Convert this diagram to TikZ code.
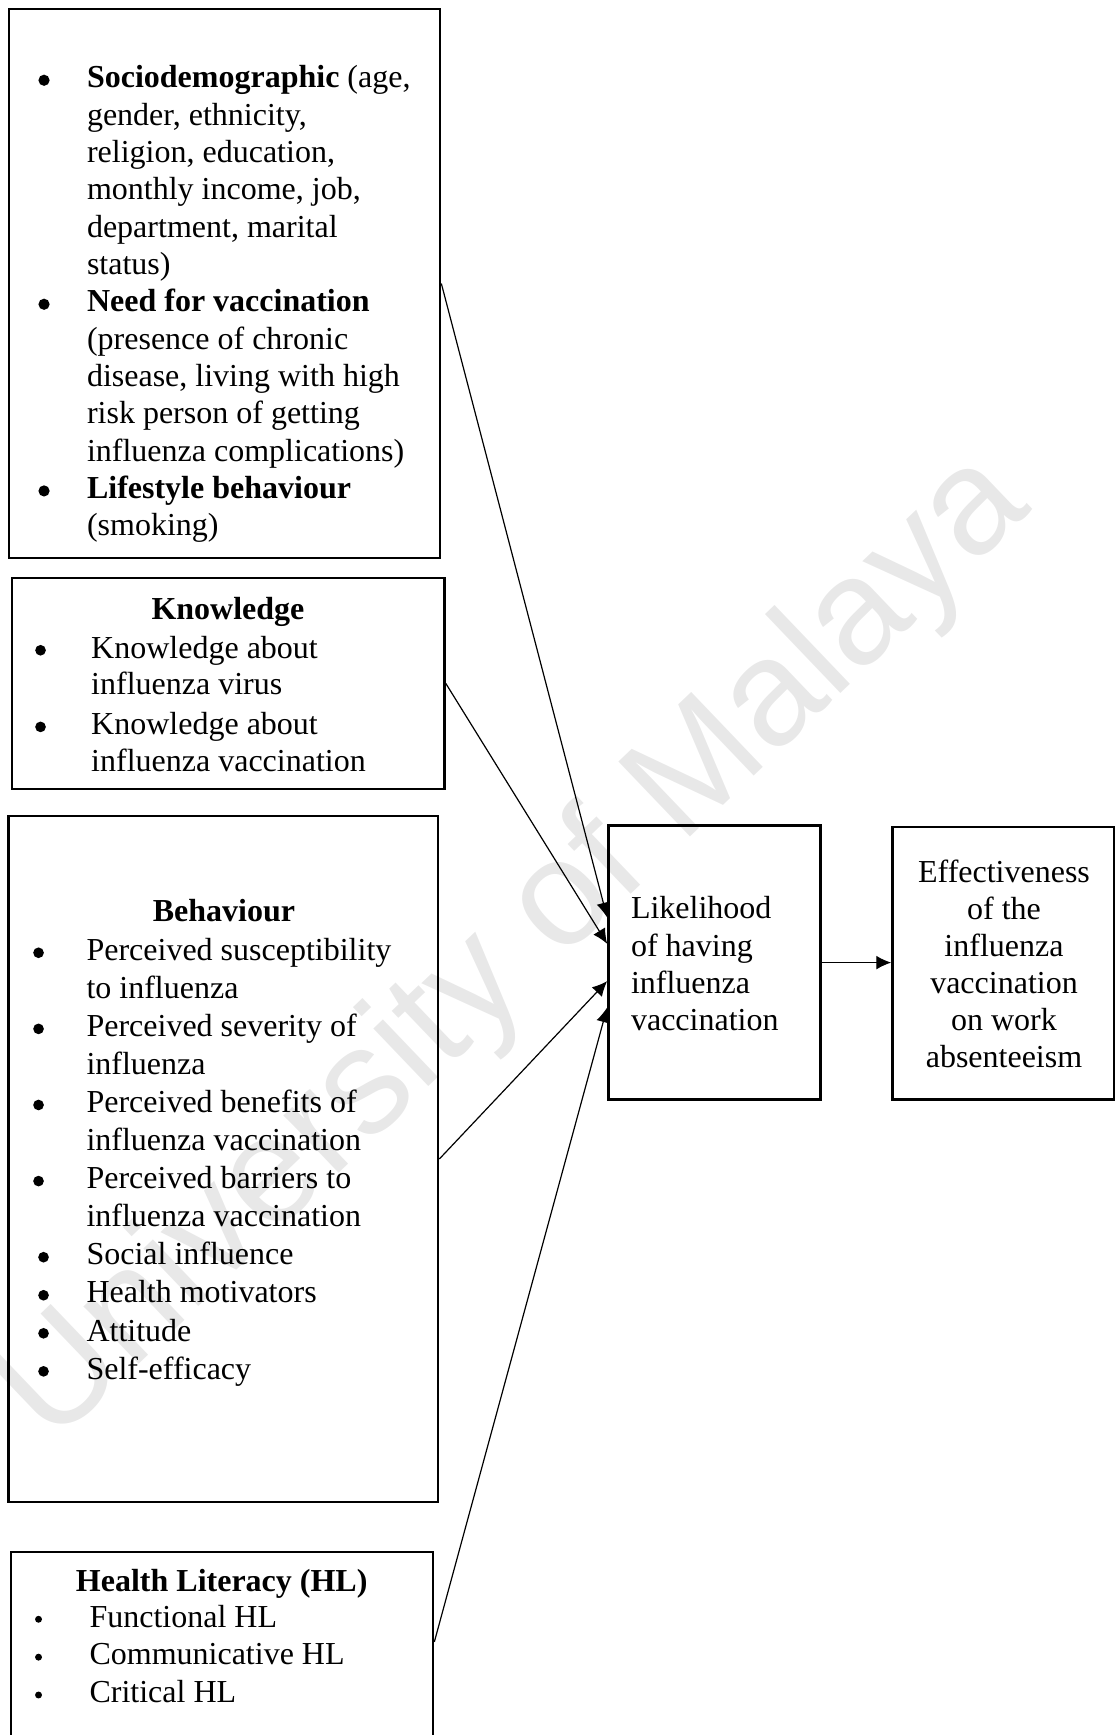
\documentclass[tikz,border=0pt]{standalone}
\usepackage{fontspec}
\setmainfont{Liberation Serif}
\newfontfamily\wmfont{Liberation Sans}
\usetikzlibrary{arrows.meta,calc,fit}

% one drawing unit
\newdimen\px \px=0.375pt
% round list marker of radius #1, centred on the x-height
\newcommand\dotmark[1]{\tikz[baseline=0pt]\fill (0pt,2.9pt) circle[radius=#1];}
% marker centred #2 units left of the text column
\newcommand\bul[2][2pt]{\llap{\makebox[0pt]{\dotmark{#1}}\hspace*{#2\px}}}

\tikzset{
  frame/.style={draw, line width=1pt, inner sep=0pt},
  body/.style={inner sep=0pt, anchor=base west},
  head/.style={inner sep=0pt, anchor=base, font=\fontsize{12}{14}\selectfont\bfseries},
  conn/.style={line width=0.45pt, -{Latex[length=5.6pt,width=5.2pt]}},
  wmark/.style={inner sep=0pt, text=black!9, font=\wmfont\fontsize{56.5}{56.5}\selectfont},
}

\begin{document}
\begin{tikzpicture}[x=0.375pt, y=-0.375pt]
\useasboundingbox (0,0) rectangle (1116,1735);
\clip (0,0) rectangle (1116,1735);

% background lettering
\node[wmark, rotate=43.7] (wm) at (516,950) {University of Malaya};

% frames
\node[frame, fit={(9,9) (440,558)}] (b1) {};
\node[frame, fit={(12,578) (444.5,789)}] (kn) {};
\node[frame, fit={(8.5,816) (438,1502)}] (bh) {};
\node[frame, fit={(11,1552) (433,1760)}] (hl) {};
\node[frame, fit={(608.5,825.6) (820.6,1099.6)}] (lk) {};
\node[frame, fit={(892.5,827) (1114,1099.6)}] (ef) {};

% factor lists
\node[body, font=\fontsize{12}{14}\selectfont] (b1t) at (86.5,88) {\begin{tabular}[t]{@{}l@{}}
\bul[2.1pt]{43}\textbf{Sociodemographic} (age,\\
gender, ethnicity,\\
religion, education,\\
monthly income, job,\\
department, marital\\
status)\\
\bul[2.1pt]{43}\textbf{Need for vaccination}\\
(presence of chronic\\
disease, living with high\\
risk person of getting\\
influenza complications)\\
\bul[2.1pt]{43}\textbf{Lifestyle behaviour}\\
(smoking)
\end{tabular}};

\node[head] (knh) at (228,619.3) {Knowledge};
\node[body, font=\fontsize{12}{13.75}\selectfont] (knt) at (90.7,658) {\begin{tabular}[t]{@{}l@{}}
\bul{50.7}Knowledge about\\
influenza virus\\[3.3\px]
\bul{50.7}Knowledge about\\
influenza vaccination
\end{tabular}};

\node[head] (bhh) at (224,921.5) {Behaviour};
\node[body, font=\fontsize{12}{14.27}\selectfont] (bht) at (86,960.5) {\begin{tabular}[t]{@{}l@{}}
\bul{48}Perceived susceptibility\\
to influenza\\
\bul{48}Perceived severity of\\
influenza\\
\bul{48}Perceived benefits of\\
influenza vaccination\\
\bul{48}Perceived barriers to\\
influenza vaccination\\
\bul{43}Social influence\\
\bul{43}Health motivators\\
\bul{43}Attitude\\
\bul{43}Self-efficacy
\end{tabular}};

\node[head] (hlh) at (221.7,1591.7) {Health Literacy (HL)};
\node[body, font=\fontsize{12}{14.2}\selectfont] (hlt) at (89,1627) {\begin{tabular}[t]{@{}l@{}}
\bul[1.3pt]{51}Functional HL\\
\bul[1.3pt]{51}Communicative HL\\
\bul[1.3pt]{51}Critical HL
\end{tabular}};

% outcome boxes
\node[body, font=\fontsize{12}{14}\selectfont] (lkt) at (630.5,918.7) {\begin{tabular}[t]{@{}l@{}}
Likelihood\\
of having\\
influenza\\
vaccination
\end{tabular}};

\node[inner sep=0pt, anchor=base, font=\fontsize{12}{13.9}\selectfont] (eft) at (1004,882) {\begin{tabular}[t]{@{}c@{}}
Effectiveness\\
of the\\
influenza\\
vaccination\\
on work\\
absenteeism
\end{tabular}};

% connectors
\draw[conn] (b1.east) -- ($(lk.north west)!0.337!(lk.south west)$);
\draw[conn] (kn.east) -- ($(lk.north west)!0.432!(lk.south west)$);
\draw[conn] (bh.east) -- ($(lk.north west)!0.567!(lk.south west)$);
\draw[conn] ($(hl.north east)!0.433!(hl.south east)$) -- ($(lk.north west)!0.662!(lk.south west)$);
\draw[conn] (lk.east) -- (lk.east -| ef.west);
\end{tikzpicture}
\end{document}
